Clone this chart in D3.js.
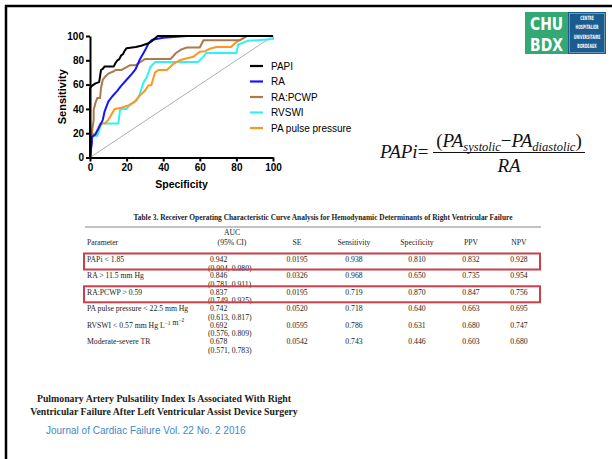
<!DOCTYPE html>
<html>
<head>
<meta charset="utf-8">
<script src="https://cdn.jsdelivr.net/npm/d3@7"></script>
<style>
  body { margin: 0; background: #fff; }
  svg { display: block; }
  .axis path, .axis line { stroke: #000; stroke-width: 2; }
  .axis text { font-family: "Liberation Sans", Arial, sans-serif; font-weight: bold; font-size: 10px; fill: #000; }
  .tbl { font-family: "Liberation Serif", "Times New Roman", serif; font-size: 7.7px; fill: #222; }
</style>
</head>
<body>
<svg id="slide" width="612" height="459"></svg>
<script>
// ROC curves, [100 - specificity, sensitivity]
const papiPoints = [[0,0],[0,57],[1,59],[3,61],[5,62],[6,72],[7,73],[8,75],[13,75],[14,78],[15,80],[16,81],[17,84],[18,85],[19,88],[20,90],[25,91],[28,92],[32,94],[34,96],[37,100],[100,100]];
const raPoints = [[0,0],[1,12],[1,17],[3,19],[5,25],[7,31],[8,38],[10,46],[12,50],[15,55],[17,59],[20,64],[23,69],[25,73],[27,80],[30,88],[32,94],[34,97],[40,98.5],[53,100],[100,100]];
const raPcwpPoints = [[0,0],[1,20],[2,31],[2,39],[3,45],[4,49],[5.5,49],[6,57],[7,64],[8,66],[10,69],[13,71],[14,72],[17,72],[22,76],[25,76],[28,79],[30,81],[44,81],[47,86],[50,89],[53,90.5],[60,90.5],[62,96.5],[82,96.5],[86,100],[100,100]];
const rvswiPoints = [[0,0],[1,15],[2,18],[4,18],[5.5,25],[6.5,28],[15.5,28],[16.5,40],[20,40],[22,44],[25.5,47],[27,51],[29,61],[31,66],[33,74.5],[35.5,78.5],[59,78.5],[62,83],[63.5,86],[80,86],[81,93],[86,96],[100,97.5],[100,100]];
const pulsePoints = [[0,0],[0.5,7],[1,19],[3,20],[4.5,24],[5.5,28],[8,28],[10,31],[13.5,40],[17,41],[21.5,43],[24.5,46],[26.5,50],[30,55],[32,59.5],[33.5,59.5],[35.5,70],[37.5,72],[42,72],[45.5,77],[49,80],[52.5,81.5],[56.5,83],[60,87],[63,87.5],[65.5,89.5],[69,91],[77,91],[80,95],[85.5,100],[100,100]];

const seriesNames = ['PAPI', 'RA', 'RA:PCWP', 'RVSWI', 'PA pulse pressure'];
const seriesColors = ['#000000', '#1414ff', '#a87b4f', '#2ef2f7', '#ff961e'];
const seriesPoints = [papiPoints, raPoints, raPcwpPoints, rvswiPoints, pulsePoints];
const axisTicks = [0, 20, 40, 60, 80, 100];

// table 3
const tableTitle = 'Table 3. Receiver Operating Characteristic Curve Analysis for Hemodynamic Determinants of Right Ventricular Failure';
const tableParams = ['PAPi < 1.85', 'RA > 11.5 mm Hg', 'RA:PCWP > 0.59', 'PA pulse pressure < 22.5 mm Hg', 'RVSWI < 0.57 mm Hg L^{\u22121} m^{\u22122}', 'Moderate-severe TR'];
const aucValues = ['0.942', '0.846', '0.837', '0.742', '0.692', '0.678'];
const aucCI = ['(0.904, 0.980)', '(0.781, 0.911)', '(0.749, 0.925)', '(0.613, 0.817)', '(0.576, 0.809)', '(0.571, 0.783)'];
const seValues = ['0.0195', '0.0326', '0.0195', '0.0520', '0.0595', '0.0542'];
const sensValues = ['0.938', '0.968', '0.719', '0.718', '0.786', '0.743'];
const specValues = ['0.810', '0.650', '0.870', '0.640', '0.631', '0.446'];
const ppvValues = ['0.832', '0.735', '0.847', '0.663', '0.680', '0.603'];
const npvValues = ['0.928', '0.954', '0.756', '0.695', '0.747', '0.680'];
const highlightedRows = [0, 2];

const svg = d3.select('#slide');

// slide frame
svg.append('line').attr('x1', 5).attr('x2', 612).attr('y1', 6).attr('y2', 6)
  .attr('stroke', '#000').attr('stroke-width', 2.5);
svg.append('line').attr('x1', 6).attr('x2', 6).attr('y1', 5).attr('y2', 459)
  .attr('stroke', '#000').attr('stroke-width', 2.5);

/* ROC CHART */
const x = d3.scaleLinear().domain([0, 100]).range([90, 273]);
const y = d3.scaleLinear().domain([0, 100]).range([157.5, 36]);

svg.append('line')
  .attr('x1', x(0)).attr('y1', y(0)).attr('x2', x(100)).attr('y2', y(100))
  .attr('stroke', '#9a9a9a').attr('stroke-width', 0.8);

const line = d3.line().x(d => x(d[0])).y(d => y(d[1]));

// draw back to front so PAPI sits on top
const drawOrder = [3, 4, 2, 1, 0];
svg.append('g').selectAll('path')
  .data(drawOrder)
  .enter().append('path')
    .attr('d', i => line(seriesPoints[i]))
    .attr('fill', 'none')
    .attr('stroke', i => seriesColors[i])
    .attr('stroke-width', 2)
    .attr('stroke-linejoin', 'round');

svg.append('g')
  .attr('class', 'axis')
  .attr('transform', `translate(0,${y(0)})`)
  .call(d3.axisBottom(x).tickValues(axisTicks).tickSize(4).tickSizeOuter(0).tickPadding(2));

svg.append('g')
  .attr('class', 'axis')
  .attr('transform', `translate(${x(0)},0)`)
  .call(d3.axisLeft(y).tickValues(axisTicks).tickSize(4).tickSizeOuter(0).tickPadding(2));

svg.append('text')
  .attr('x', x(50)).attr('y', 188)
  .attr('text-anchor', 'middle')
  .attr('font-family', 'Liberation Sans, Arial, sans-serif')
  .attr('font-weight', 'bold').attr('font-size', 10.5)
  .text('Specificity');

svg.append('text')
  .attr('transform', `translate(66,${y(50)}) rotate(-90)`)
  .attr('text-anchor', 'middle')
  .attr('font-family', 'Liberation Sans, Arial, sans-serif')
  .attr('font-weight', 'bold').attr('font-size', 11)
  .text('Sensitivity');

// legend
const legend = svg.append('g').selectAll('g')
  .data(seriesNames)
  .enter().append('g')
    .attr('transform', (d, i) => `translate(250,${66 + i * 15.5})`);
legend.append('line')
  .attr('x1', 0).attr('x2', 13)
  .attr('stroke', (d, i) => seriesColors[i])
  .attr('stroke-width', 2.2);
legend.append('text')
  .attr('x', 21).attr('dy', '0.35em')
  .attr('font-family', 'Liberation Sans, Arial, sans-serif')
  .attr('font-size', 10)
  .text(d => d);

/* FORMULA */
const formula = svg.append('g')
  .attr('font-family', 'Liberation Serif, Times New Roman, serif')
  .attr('fill', '#111');
const lhs = formula.append('text').attr('x', 380).attr('y', 158).attr('font-size', 19);
lhs.append('tspan').attr('font-style', 'italic').text('PAPi');
lhs.append('tspan').text('=');

const num = formula.append('text')
  .attr('x', 509).attr('y', 147).attr('text-anchor', 'middle').attr('font-size', 19);
num.append('tspan').text('(');
num.append('tspan').attr('font-style', 'italic').text('PA');
num.append('tspan').attr('font-style', 'italic').attr('font-size', 12.5).attr('dy', 4).text('systolic');
num.append('tspan').attr('dy', -4).text('\u2212');
num.append('tspan').attr('font-style', 'italic').text('PA');
num.append('tspan').attr('font-style', 'italic').attr('font-size', 12.5).attr('dy', 4).text('diastolic');
num.append('tspan').attr('dy', -4).text(')');

formula.append('line')
  .attr('x1', 433).attr('x2', 585).attr('y1', 152.5).attr('y2', 152.5)
  .attr('stroke', '#111').attr('stroke-width', 1.1);
formula.append('text')
  .attr('x', 509).attr('y', 172).attr('text-anchor', 'middle')
  .attr('font-size', 19).attr('font-style', 'italic')
  .text('RA');

/* LOGO */
const logo = svg.append('g');
logo.append('rect').attr('x', 525).attr('y', 12).attr('width', 43).attr('height', 42).attr('fill', '#34a873');
logo.append('rect').attr('x', 568).attr('y', 12).attr('width', 38).attr('height', 42).attr('fill', '#1b5c8e');
logo.append('rect').attr('x', 569.5).attr('y', 13.5).attr('width', 35).attr('height', 39)
  .attr('fill', 'none').attr('stroke', '#ffffff').attr('stroke-opacity', 0.6).attr('stroke-width', 0.6);
// condensed lettering: squeeze horizontally
logo.append('g')
  .attr('transform', 'translate(546.5,0) scale(0.86,1)')
  .selectAll('text')
  .data(['CHU', 'BDX'])
  .enter().append('text')
    .attr('x', 0).attr('y', (d, i) => 30 + i * 21)
    .attr('text-anchor', 'middle')
    .attr('font-family', 'DejaVu Sans Condensed, Roboto, sans-serif')
    .attr('font-weight', 'bold').attr('font-size', 18)
    .attr('fill', '#ffffff')
    .text(d => d);
const logoWords = ['CENTRE', 'HOSPITALIER', 'UNIVERSITAIRE', 'BORDEAUX'];
logo.append('g')
  .attr('transform', 'translate(587,0) scale(0.6,1)')
  .selectAll('text')
  .data(logoWords)
  .enter().append('text')
    .attr('x', 0).attr('y', (d, i) => 20 + i * 9.5)
    .attr('text-anchor', 'middle')
    .attr('font-family', 'DejaVu Sans Condensed, Roboto, sans-serif')
    .attr('font-weight', 'bold').attr('font-size', 5.8)
    .attr('fill', '#ffffff')
    .text(d => d);

/* TABLE */
const table = svg.append('g').attr('class', 'tbl');
table.append('text')
  .attr('x', 323).attr('y', 220).attr('text-anchor', 'middle')
  .attr('font-weight', 'bold').attr('font-size', 7.4)
  .text(tableTitle);
table.append('line')
  .attr('x1', 85).attr('x2', 541).attr('y1', 227).attr('y2', 227)
  .attr('stroke', '#555').attr('stroke-width', 0.7);

const colCenters = { auc: 232, se: 297, sens: 354, spec: 417, ppv: 471, npv: 519 };
table.append('text').attr('x', colCenters.auc).attr('y', 235).attr('text-anchor', 'middle').text('AUC');
table.append('text').attr('x', colCenters.auc).attr('y', 245).attr('text-anchor', 'middle').text('(95% CI)');
table.append('text').attr('x', 87).attr('y', 245).text('Parameter');
[['se', 'SE'], ['sens', 'Sensitivity'], ['spec', 'Specificity'], ['ppv', 'PPV'], ['npv', 'NPV']].forEach(([k, label]) => {
  table.append('text').attr('x', colCenters[k]).attr('y', 245).attr('text-anchor', 'middle').text(label);
});

const rowY = d3.scaleLinear().domain([0, tableParams.length - 1]).range([262, 344]);

tableParams.forEach((param, i) => {
  const t = table.append('text').attr('x', 87).attr('y', rowY(i));
  // split ^{...} into superscripts
  param.split(/(\^\{[^}]*\})/).filter(s => s).forEach(part => {
    if (part.startsWith('^{')) {
      t.append('tspan').attr('dy', -3).attr('font-size', 5.5).text(part.slice(2, -1));
      t.append('tspan').attr('dy', 3).text('');
    } else {
      t.append('tspan').text(part);
    }
  });
  table.append('text').attr('x', 210).attr('y', rowY(i)).text(aucValues[i]);
  table.append('text').attr('x', 208).attr('y', rowY(i) + 8.5).text(aucCI[i]);
  [['se', seValues], ['sens', sensValues], ['spec', specValues], ['ppv', ppvValues], ['npv', npvValues]].forEach(([k, vals]) => {
    table.append('text').attr('x', colCenters[k]).attr('y', rowY(i)).attr('text-anchor', 'middle').text(vals[i]);
  });
});

table.selectAll('rect.hl')
  .data(highlightedRows)
  .enter().append('rect')
    .attr('class', 'hl')
    .attr('x', 84).attr('width', 456)
    .attr('y', d => rowY(d) - 8.5).attr('height', 16)
    .attr('fill', 'none').attr('stroke', '#c9404a').attr('stroke-width', 2);

/* CITATION */
const cite = svg.append('g').attr('font-family', 'Liberation Serif, Times New Roman, serif')
  .attr('font-weight', 'bold').attr('font-size', 9.8).attr('fill', '#222');
cite.append('text').attr('x', 164).attr('y', 402).attr('text-anchor', 'middle')
  .text('Pulmonary Artery Pulsatility Index Is Associated With Right');
cite.append('text').attr('x', 164).attr('y', 414.5).attr('text-anchor', 'middle')
  .text('Ventricular Failure After Left Ventricular Assist Device Surgery');
svg.append('text').attr('x', 46).attr('y', 434)
  .attr('font-family', 'Liberation Sans, Arial, sans-serif')
  .attr('font-size', 10).attr('fill', '#3d8ac6')
  .text('Journal of Cardiac Failure Vol. 22 No. 2 2016');
</script>
</body>
</html>
